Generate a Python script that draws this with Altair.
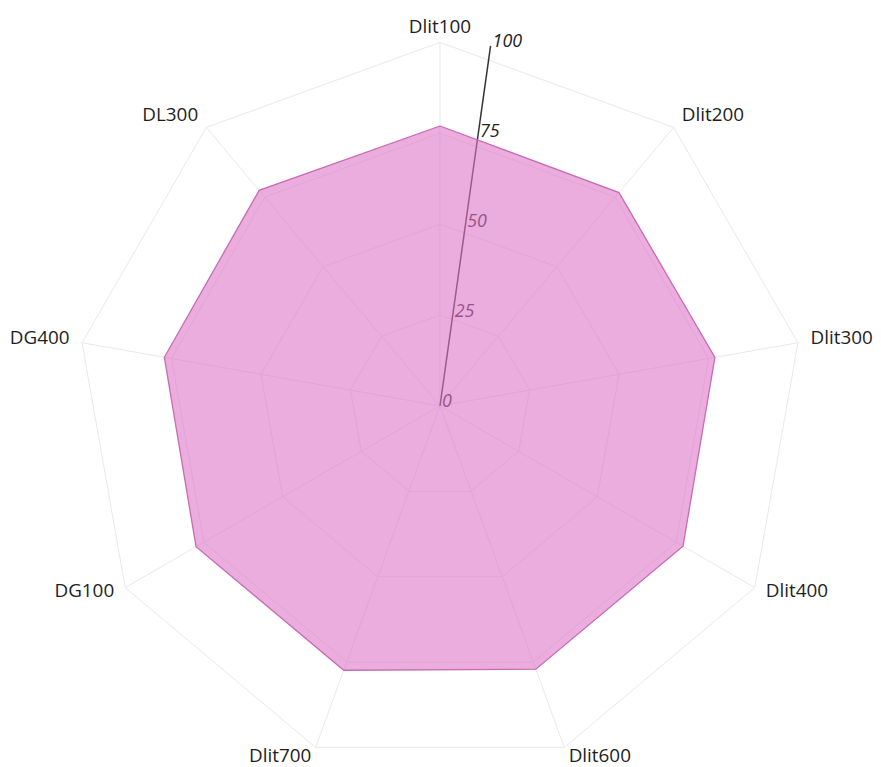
import altair as alt
import pandas as pd

# ---- data ----
categories = ["Dlit100", "Dlit200", "Dlit300", "Dlit400", "Dlit600",
              "Dlit700", "DG100", "DG400", "DL300"]
values = [77.0, 76.6, 76.8, 77.2, 77.1, 77.4, 77.5, 77.0, 77.4]
tick_values = [0, 25, 50, 75, 100]
grid_levels = [25, 50, 75, 100]
radial_axis_angle_deg = 8  # radial axis tilt (clockwise from north)

n = len(categories)

poly_df = pd.DataFrame({
    "category": categories + [categories[0]],
    "value": values + [values[0]],
    "idx": list(range(n)) + [n],
})

grid_rows = []
for lv in grid_levels:
    for i in range(n + 1):
        grid_rows.append({"level": lv, "idx": i})
grid_df = pd.DataFrame(grid_rows)

spoke_df = pd.DataFrame({"category": categories, "idx": list(range(n)), "value": [100] * n})
tick_df = pd.DataFrame({"tick": tick_values, "label": [str(t) for t in tick_values]})
axis_df = pd.DataFrame({"value": [100]})

W, H = 865, 751
xs = alt.Scale(domain=[-118.85, 117.49], nice=False, zero=False)
ys = alt.Scale(domain=[-96.45, 108.74], nice=False, zero=False)

ANG = f"datum.idx * 2 * PI / {n}"

grid = alt.Chart(grid_df).transform_calculate(
    ang=ANG
).transform_calculate(
    px="datum.level * sin(datum.ang)", py="datum.level * cos(datum.ang)"
).mark_line(stroke="#e8e8ee", strokeWidth=1).encode(
    x=alt.X("px:Q", scale=xs, axis=None),
    y=alt.Y("py:Q", scale=ys, axis=None),
    detail="level:N",
    order="idx:Q",
)

spokes = alt.Chart(spoke_df).transform_calculate(
    ang=ANG
).transform_calculate(
    px="datum.value * sin(datum.ang)", py="datum.value * cos(datum.ang)", z="0"
).mark_rule(stroke="#e8e8ee", strokeWidth=1).encode(
    x=alt.X("z:Q", scale=xs, axis=None),
    y=alt.Y("z:Q", scale=ys, axis=None),
    x2="px:Q",
    y2="py:Q",
)

RA = f"{radial_axis_angle_deg} * PI / 180"
raxis = alt.Chart(axis_df).transform_calculate(
    px=f"datum.value * sin({RA})", py=f"datum.value * cos({RA})", z="0"
).mark_rule(stroke="#333333", strokeWidth=1.5).encode(
    x=alt.X("z:Q", scale=xs, axis=None),
    y=alt.Y("z:Q", scale=ys, axis=None),
    x2="px:Q",
    y2="py:Q",
)

rticks = alt.Chart(tick_df).transform_calculate(
    px=f"datum.tick * sin({RA})", py=f"datum.tick * cos({RA})"
).mark_text(
    align="left", baseline="middle", dx=2, dy=-4,
    font="Open Sans", fontSize=18, fontStyle="italic", color="#222222"
).encode(
    x=alt.X("px:Q", scale=xs, axis=None),
    y=alt.Y("py:Q", scale=ys, axis=None),
    text="label:N",
)

poly = alt.Chart(poly_df).transform_calculate(
    ang=ANG
).transform_calculate(
    px="datum.value * sin(datum.ang)", py="datum.value * cos(datum.ang)"
).mark_line(
    fill="#dd76c6", fillOpacity=0.6, stroke="#c86ab6", strokeWidth=1.3
).encode(
    x=alt.X("px:Q", scale=xs, axis=None),
    y=alt.Y("py:Q", scale=ys, axis=None),
    order="idx:Q",
)

def label_layer(filt, align):
    return alt.Chart(spoke_df).transform_calculate(
        ang=ANG
    ).transform_calculate(
        s="sin(datum.ang)"
    ).transform_filter(filt).transform_calculate(
        px="103.5 * sin(datum.ang)", py="103.5 * cos(datum.ang)"
    ).mark_text(
        align=align, baseline="middle", dy=-3,
        font="Open Sans", fontSize=19, color="#1e1e1e"
    ).encode(
        x=alt.X("px:Q", scale=xs, axis=None),
        y=alt.Y("py:Q", scale=ys, axis=None),
        text="category:N",
    )

lab_r = label_layer("datum.s > 0.1", "left")
lab_l = label_layer("datum.s < -0.1", "right")
lab_c = label_layer("abs(datum.s) <= 0.1", "center")

chart = alt.layer(grid, spokes, raxis, rticks, poly, lab_r, lab_l, lab_c).properties(
    width=W, height=H, padding=0, background="white"
).configure_view(stroke=None)

chart.save("out.html", embed_options={"renderer": "svg", "actions": False})
